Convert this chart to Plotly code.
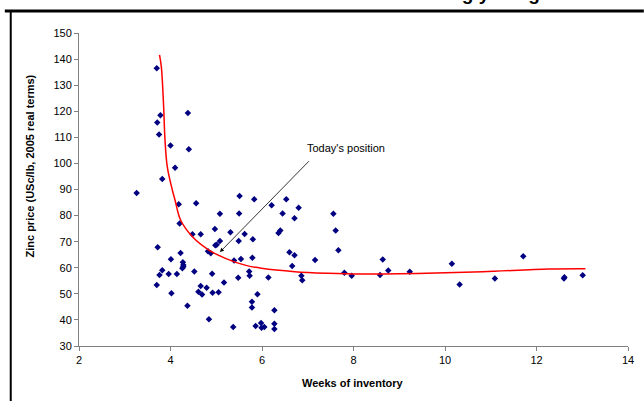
import plotly.graph_objects as go

# Scatter data: weeks of inventory vs zinc price
weeks = [3.70, 3.78, 3.71, 3.75, 4.38, 4.00, 4.40, 4.10, 3.82, 3.26,
         4.18, 4.56, 5.51, 5.83, 5.08, 5.50, 4.20, 4.48, 4.66, 4.97,
         5.31, 5.62, 5.49, 5.08, 5.01, 4.98, 3.72, 4.22, 4.82, 4.88,
         5.80, 4.01, 4.27, 4.28, 4.26, 4.28, 5.39, 5.54, 5.79, 3.82,
         3.76, 3.96, 4.14, 4.52, 4.91, 5.17, 5.48, 5.72, 5.73, 3.70,
         4.02, 4.66, 4.79, 4.61, 4.69, 4.92, 5.05, 4.37, 4.84, 5.37,
         5.78, 5.78, 5.90, 5.86, 6.21, 6.53, 6.45, 6.80, 6.71, 7.56,
         7.61, 6.40, 6.36, 7.67, 6.60, 6.71, 7.16, 6.66, 6.14, 6.86,
         6.88, 7.80, 7.96, 6.27, 5.98, 5.99, 6.05, 6.27, 6.27, 8.64,
         8.58, 8.76, 9.23, 10.15, 10.32, 11.09, 11.71, 12.60, 12.61, 13.01]
price = [136.5, 118.5, 115.7, 111.1, 119.3, 106.9, 105.4, 98.3, 94.0, 88.7,
         84.3, 84.7, 87.5, 86.3, 80.7, 80.8, 77.0, 72.8, 72.8, 74.9,
         73.6, 72.9, 70.3, 70.3, 68.8, 68.6, 67.9, 65.7, 66.3, 65.6,
         70.9, 63.3, 62.1, 61.1, 59.8, 60.4, 62.8, 63.4, 63.8, 59.0,
         57.2, 57.6, 57.6, 58.6, 57.7, 54.3, 56.2, 58.6, 56.9, 53.4,
         50.2, 53.0, 52.3, 50.8, 49.7, 50.4, 50.6, 45.4, 40.3, 37.3,
         47.0, 44.8, 49.8, 37.7, 84.0, 86.3, 80.8, 83.0, 79.0, 80.7,
         74.3, 74.3, 73.3, 66.7, 65.9, 64.8, 63.0, 60.7, 56.3, 56.9,
         55.2, 58.1, 56.9, 43.7, 38.8, 37.0, 37.3, 38.5, 36.5, 63.2,
         57.2, 58.9, 58.5, 61.5, 53.6, 55.9, 64.4, 55.9, 56.4, 57.1]

# Fitted trend curve
fit_x = [3.76, 3.80, 3.85, 3.88, 3.93, 4.04, 4.10, 4.22, 4.48, 4.84,
         5.20, 5.63, 5.99, 6.72, 7.44, 8.16, 9.60, 10.83, 12.27, 13.07]
fit_y = [141.6, 137.0, 121.7, 108.9, 98.7, 89.8, 85.9, 78.3, 71.9, 66.8,
         63.6, 61.0, 59.8, 58.5, 57.9, 57.6, 57.9, 58.5, 59.5, 59.6]

x_ticks = [2, 4, 6, 8, 10, 12, 14]
y_ticks = [30, 40, 50, 60, 70, 80, 90, 100, 110, 120, 130, 140, 150]

FONT = "Arial, Liberation Sans, sans-serif"

fig = go.Figure()
fig.add_trace(go.Scatter(x=weeks, y=price, mode="markers",
                         marker=dict(symbol="diamond", size=5, color="#000080"),
                         showlegend=False, hoverinfo="x+y"))
fig.add_trace(go.Scatter(x=fit_x, y=fit_y, mode="lines",
                         line=dict(color="#ff0000", width=1.5, shape="spline"),
                         showlegend=False))

W, H = 644, 401
L, R, T, B = 79, 10, 33, 55
pw, ph = W - L - R, H - T - B

def px(xp):
    return (xp - L) / pw

def py(yp):
    return (H - B - yp) / ph

fig.update_layout(
    width=W, height=H,
    margin=dict(l=L, r=R, t=T, b=B),
    paper_bgcolor="white", plot_bgcolor="white",
    font=dict(family=FONT, size=11, color="#000000"),
    xaxis=dict(range=[2, 14], tickvals=x_ticks, showgrid=False, zeroline=False,
               showline=True, linecolor="#808080", linewidth=1,
               ticks="outside", ticklen=4, tickcolor="#808080",
               tickfont=dict(family=FONT, size=11, color="#000000")),
    yaxis=dict(range=[30, 150], tickvals=y_ticks, showgrid=False, zeroline=False,
               showline=True, linecolor="#808080", linewidth=1,
               ticks="outside", ticklen=4, tickcolor="#808080",
               tickfont=dict(family=FONT, size=11, color="#000000")),
    shapes=[
        dict(type="line", xref="paper", yref="paper",
             x0=px(4), x1=px(650), y0=py(11), y1=py(11),
             line=dict(color="black", width=3)),
        dict(type="line", xref="paper", yref="paper",
             x0=px(10), x1=px(10), y0=py(11), y1=py(410),
             line=dict(color="black", width=2)),
    ],
    annotations=[
        dict(text="<b>Weeks of inventory</b>", xref="paper", yref="paper",
             x=px(356), y=py(383), showarrow=False,
             font=dict(family=FONT, size=11, color="#000000"),
             xanchor="center", yanchor="middle"),
        dict(text="<b>Zinc price (USc/lb, 2005 real terms)</b>", xref="paper", yref="paper",
             x=px(29), y=py(166), showarrow=False, textangle=-90,
             font=dict(family=FONT, size=11, color="#000000"),
             xanchor="center", yanchor="middle"),
        dict(text=" ", x=5.08, y=66.0, xref="x", yref="y",
             ax=7.09, ay=102.0, axref="x", ayref="y",
             showarrow=True, arrowhead=2, arrowsize=1, arrowwidth=0.8,
             arrowcolor="black", standoff=0, startstandoff=0),
        dict(text="Today's position", x=7.83, y=105.9, xref="x", yref="y",
             showarrow=False, font=dict(family=FONT, size=11, color="#000000"),
             xanchor="center", yanchor="middle"),
        dict(text="<b>Zinc stocks are low and heading yet higher</b>", xref="paper", yref="paper",
             x=px(180), y=py(6), showarrow=False, xanchor="left", yanchor="bottom",
             font=dict(family=FONT, size=19, color="#000000")),
    ],
)

fig.write_html("out.html")
